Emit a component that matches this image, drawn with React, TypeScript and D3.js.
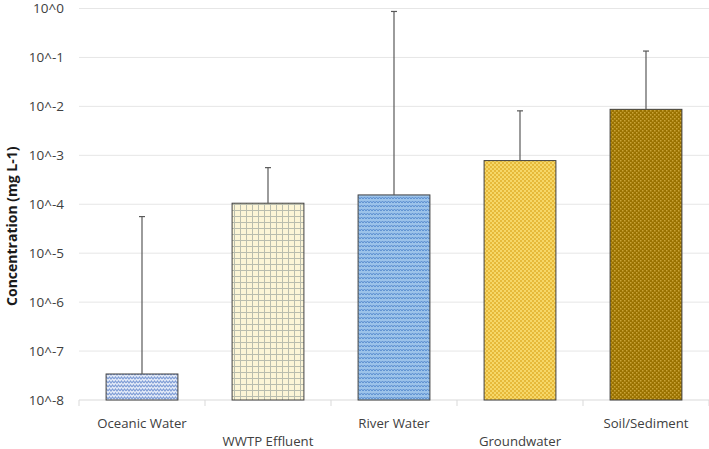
import React from "react";
import * as d3 from "d3";

const categories = ["Oceanic Water", "WWTP Effluent", "River Water", "Groundwater", "Soil/Sediment"];
const meanValues = [3.4e-8, 1.05e-4, 1.55e-4, 7.8e-4, 8.7e-3];
const upperValues = [5.6e-5, 5.6e-4, 0.87, 8.1e-3, 0.135];
const tickExponents = [0, -1, -2, -3, -4, -5, -6, -7, -8];
const patternIds = ["pOcean", "pWwtp", "pRiver", "pGround", "pSoil"];

const W = 709;
const H = 449;
const left = 79;
const right = 709;
const top = 8.5;
const bottom = 400;

export default function App() {
  const x = d3.scaleBand<string>().domain(categories).range([left, right]).paddingInner(0.43).paddingOuter(0.215);
  const y = d3.scaleLog().domain([1e-8, 1]).range([bottom, top]);
  const step = x.step();
  const font = "'Open Sans', 'Noto Sans', sans-serif";
  return (
    <svg width={W} height={H} style={{ position: "absolute", left: 0, top: 0, background: "#fff" }}>
      <defs>
        <pattern id="pOcean" width="6" height="4" patternUnits="userSpaceOnUse">
          <rect width="6" height="4" fill="#e4ebf8" />
          <path d="M0,3 L1.5,1 L3,3 L4.5,1 L6,3" fill="none" stroke="#7f9dd6" strokeWidth="1.2" />
        </pattern>
        <pattern id="pWwtp" width="6" height="6" patternUnits="userSpaceOnUse">
          <rect width="6" height="6" fill="#fcf5d6" />
          <path d="M0,0.5 H6 M0.5,0 V6" stroke="#b9bdae" strokeWidth="1" />
        </pattern>
        <pattern id="pRiver" width="6" height="4" patternUnits="userSpaceOnUse">
          <rect width="6" height="4" fill="#9cc3ea" />
          <path d="M0,3 L1.5,1 L3,3 L4.5,1 L6,3" fill="none" stroke="#5b8fd0" strokeWidth="1" />
        </pattern>
        <pattern id="pGround" width="4" height="4" patternUnits="userSpaceOnUse">
          <rect width="4" height="4" fill="#f6d768" />
          <rect x="0" y="0" width="2" height="2" fill="#e6b93a" />
          <rect x="2" y="2" width="2" height="2" fill="#e6b93a" />
        </pattern>
        <pattern id="pSoil" width="4" height="4" patternUnits="userSpaceOnUse">
          <rect width="4" height="4" fill="#9a7200" />
          <rect x="0" y="0" width="1.5" height="1.5" fill="#caa438" />
          <rect x="2" y="2" width="1.5" height="1.5" fill="#caa438" />
        </pattern>
      </defs>
      {tickExponents.map((e) => (
        <g key={e}>
          {e !== -8 && (
            <line x1={left} x2={right} y1={y(Math.pow(10, e))} y2={y(Math.pow(10, e))} stroke="#e6e6e6" strokeWidth={1} />
          )}
          <text x={64} y={y(Math.pow(10, e))} dy="0.35em" textAnchor="end" fontFamily={font} fontSize={13.5} fill="#404040">
            {`10^${e}`}
          </text>
        </g>
      ))}
      <line x1={left} x2={right} y1={bottom} y2={bottom} stroke="#d9d9d9" strokeWidth={1} />
      {d3.range(categories.length + 1).map((i) => {
        const xx = left + i * step;
        return <line key={i} x1={xx} x2={xx} y1={bottom} y2={bottom + 6} stroke="#d9d9d9" strokeWidth={1} />;
      })}
      {categories.map((c, i) => {
        const bx = x(c) as number;
        const bw = x.bandwidth();
        const cx = bx + bw / 2;
        const yt = y(meanValues[i]);
        const ye = y(upperValues[i]);
        return (
          <g key={c}>
            <rect x={bx} y={yt} width={bw} height={bottom - yt} fill={`url(#${patternIds[i]})`} stroke="#404040" strokeWidth={1} />
            <line x1={cx} x2={cx} y1={yt} y2={ye} stroke="#595959" strokeWidth={1.2} />
            <line x1={cx - 3} x2={cx + 3} y1={ye} y2={ye} stroke="#595959" strokeWidth={1.2} />
            <text x={cx} y={i % 2 === 0 ? 428 : 446} textAnchor="middle" fontFamily={font} fontSize={13.2} fill="#404040">
              {c}
            </text>
          </g>
        );
      })}
      <text
        transform={`translate(12, ${(top + bottom) / 2 + 22}) rotate(-90)`}
        textAnchor="middle"
        dy="0.35em"
        fontFamily={font}
        fontSize={14}
        fontWeight="bold"
        fill="#1a1a1a"
      >
        Concentration (mg L-1)
      </text>
    </svg>
  );
}
